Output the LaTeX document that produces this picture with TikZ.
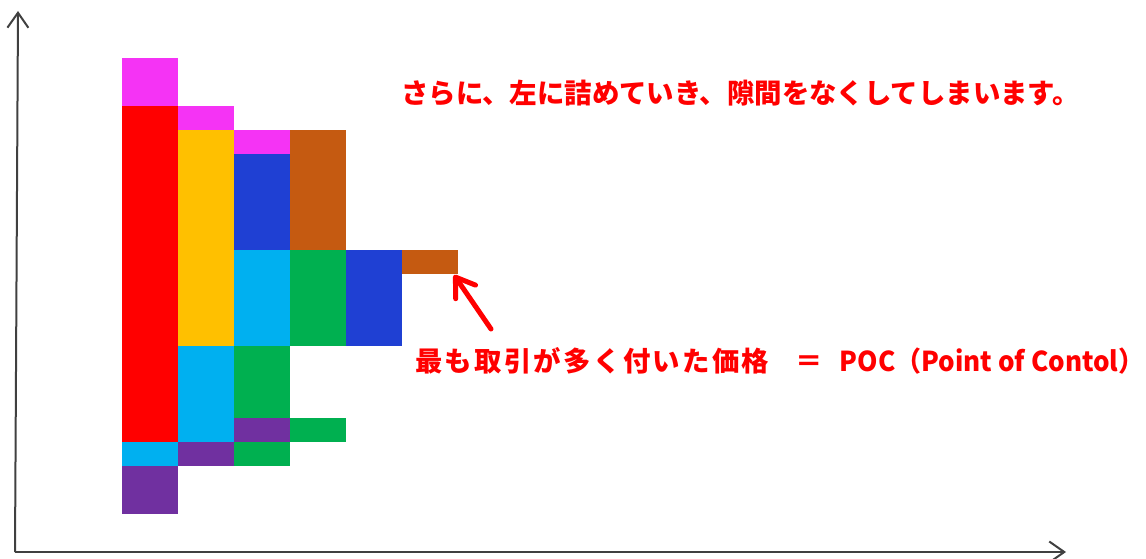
\documentclass[tikz,border=0pt]{standalone}
\usepackage{fontspec}
\newfontfamily\jp{Noto Sans CJK JP}
\usetikzlibrary{arrows.meta}
\definecolor{cpink}{HTML}{F533F5}
\definecolor{cred}{HTML}{FF0000}
\definecolor{cyellow}{HTML}{FFC000}
\definecolor{cblue}{HTML}{1F40D3}
\definecolor{ccyan}{HTML}{00B0F0}
\definecolor{cgreen}{HTML}{00B050}
\definecolor{cbrown}{HTML}{C55A11}
\definecolor{cpurple}{HTML}{7030A0}
\definecolor{caxis}{HTML}{404040}
\tikzset{
  axisline/.style={draw=caxis, line width=2pt, -{Straight Barb[length=15pt,width=21pt,line width=2pt]}},
  note/.style={text=cred, font=\jp\bfseries\fontsize{27.4}{30}\selectfont, inner sep=0pt, anchor=west},
  pointer/.style={draw=cred, line width=5pt, line cap=round, -{Straight Barb[length=18pt,width=24pt,line cap=round,line join=round]}}
}
\newcommand\mycell[4]{\fill[#1] (#2,#3) rectangle (#2+56,#4);}
\begin{document}
\begin{tikzpicture}[x=1pt,y=-1pt]
\useasboundingbox (0,0) rectangle (1146,559);
% axes
\coordinate (origin) at (15,552);
\coordinate (ytop) at (18,11);
\coordinate (xend) at (1066,552);
\draw[axisline] (origin) -- (ytop);
\draw[axisline] (origin) -- (xend);
% column 1
\mycell{cpink}{122}{58}{106}
\mycell{cred}{122}{106}{442}
\mycell{ccyan}{122}{442}{466}
\mycell{cpurple}{122}{466}{514}
% column 2
\mycell{cpink}{178}{106}{130}
\mycell{cyellow}{178}{130}{346}
\mycell{ccyan}{178}{346}{442}
\mycell{cpurple}{178}{442}{466}
% column 3
\mycell{cpink}{234}{130}{154}
\mycell{cblue}{234}{154}{250}
\mycell{ccyan}{234}{250}{346}
\mycell{cgreen}{234}{346}{418}
\mycell{cpurple}{234}{418}{442}
\mycell{cgreen}{234}{442}{466}
% column 4
\mycell{cbrown}{290}{130}{250}
\mycell{cgreen}{290}{250}{346}
\mycell{cgreen}{290}{418}{442}
% column 5
\mycell{cblue}{346}{250}{346}
% column 6 (POC)
\mycell{cbrown}{402}{250}{274}
% texts
\node[note] (t1) at (401,93) {さらに、左に詰めていき、隙間をなくしてしまいます。};
\node[note] (t2) at (415,361) {{\addfontfeature{LetterSpace=8.4}最も取引が多く付いた価格}\hspace{26pt}＝\hspace{17pt}\scalebox{0.95}[1]{POC（Point of Contol）}};
% pointer
\coordinate (poctip) at (454,275);
\coordinate (ptail) at (491,329);
\draw[pointer] (ptail) -- (poctip);
\end{tikzpicture}
\end{document}
